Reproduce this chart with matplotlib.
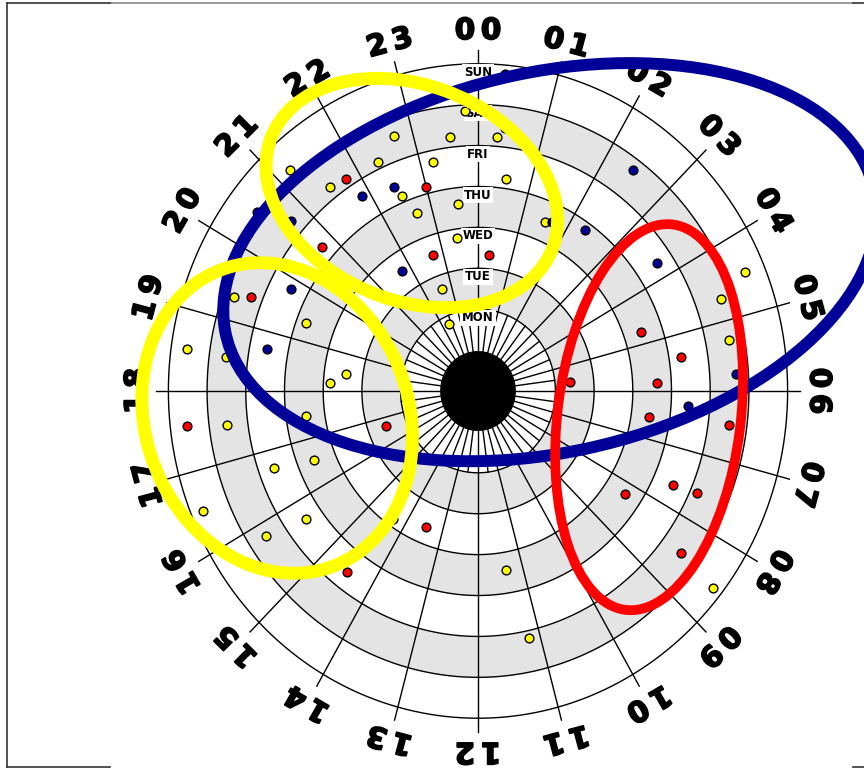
import numpy as np
import matplotlib
matplotlib.use('Agg')
import matplotlib.pyplot as plt
import matplotlib.patheffects as pe
from matplotlib.patches import Ellipse
from matplotlib.lines import Line2D

# Paso 1: datos del gráfico
# anillos (días) de dentro hacia fuera y etiquetas de las horas
dias = ['MON', 'TUE', 'WED', 'THU', 'FRI', 'SAT', 'SUN']
horas = ['%02d' % h for h in range(24)]

# puntos: hora decimal y radio (1 = borde interior de MON ... 8 = borde exterior de SUN)
amarillo_h = [23.81, 22.72, 23.55, 0.30, 22.34, 23.22, 21.20, 21.50, 22.50, 22.68, 23.56, 0.52,
              23.46, 22.62, 22.38, 19.33, 19.36, 18.52, 18.48, 18.46, 18.20, 1.51, 4.47, 4.68,
              5.28, 17.51, 17.47, 16.69, 16.56, 16.51, 15.66, 15.81, 14.34, 11.38, 11.18, 8.56]
amarillo_r = [6.85, 6.59, 6.26, 6.23, 6.16, 5.72, 7.27, 6.29, 5.16, 4.62, 4.60, 5.24,
              3.77, 2.66, 1.81, 6.70, 4.74, 7.60, 6.56, 3.44, 3.83, 4.49, 7.48, 6.67,
              6.60, 6.55, 4.49, 5.60, 4.56, 7.69, 5.43, 6.53, 3.81, 4.44, 6.19, 7.74]

rojo_h = [21.78, 22.99, 20.74, 22.72, 19.42, 0.34, 4.74, 5.40, 5.66, 5.83,
          6.54, 6.49, 7.63, 7.59, 8.23, 8.48, 17.57, 16.70, 13.47, 14.50]
rojo_r = [6.21, 5.17, 5.36, 3.51, 6.30, 3.33, 4.45, 5.30, 2.38, 4.63,
          4.46, 6.54, 5.54, 6.18, 4.55, 6.57, 7.57, 2.53, 3.60, 5.57]

azul_h = [22.43, 21.86, 20.71, 20.50, 21.74, 19.81, 18.71, 0.34, 0.42, 1.66,
          2.34, 2.43, 3.73, 5.76, 6.25]
azul_r = [5.44, 5.64, 6.38, 7.20, 3.52, 5.44, 5.56, 7.78, 6.46, 4.56,
          4.81, 6.72, 5.58, 6.69, 5.43]

# elipses de agrupación (centro x, centro y, ancho, alto, ángulo, color, grosor)
elipses = [
    (1.86, 3.15, 17.12, 9.31, 11.4, '#000099', 8.6),
    (-1.71, 4.84, 7.76, 5.29, -19.1, '#FFFF00', 9.3),
    (-5.19, -0.66, 7.82, 6.74, -61.9, '#FFFF00', 9.3),
    (4.42, -0.64, 9.50, 4.73, 82.4, '#FF0000', 7.0),
]

R = 8.4          # radio máximo del eje
R_LINEA = 8.33   # fin de las líneas de hora
R_DISCO = 0.96   # disco negro central
R_TEXTO = 8.8    # etiquetas de las horas

# Paso 2: figura y eje polar (estirado igual que la imagen original)
fig = plt.figure(figsize=(8.64, 7.7), dpi=100)
caja = [0.17697, 0.04597, 0.75255, 0.89247]
ax = fig.add_axes(caja, projection='polar')
ax.set_theta_zero_location('N')
ax.set_theta_direction(-1)
ax.set_aspect('auto')
ax.set_ylim(0, R)
ax.axis('off')

theta = np.linspace(0, 2 * np.pi, 721)

# bandas grises (TUE, THU, SAT)
for i, d in enumerate(dias):
    if i % 2 == 1:
        ax.fill_between(theta, i + 1, i + 2, color='#E4E4E4', lw=0, zorder=1)

# círculos
for k in range(2, 9):
    ax.plot(theta, np.full_like(theta, k), color='black', lw=1.0, zorder=2)

# líneas de las horas y medias horas interiores
for h in range(24):
    t = np.radians(15 * h)
    ax.plot([t, t], [R_DISCO, R_LINEA], color='black', lw=1.0, zorder=2)
    t2 = np.radians(15 * h + 7.5)
    ax.plot([t2, t2], [R_DISCO, 2], color='black', lw=1.0, zorder=2)

# disco negro
ax.fill(theta, np.full_like(theta, R_DISCO), color='black', zorder=3)

# etiquetas de los días
for i, d in enumerate(dias):
    ax.text(0, i + 2 - 0.21, d, ha='center', va='center', fontsize=8.5,
            fontweight='bold', family=['Liberation Sans Narrow', 'DejaVu Sans'],
            bbox=dict(facecolor='white', edgecolor='none', pad=1.2), zorder=4)

# etiquetas de las horas (dígitos separados y trazo grueso)
for h in range(24):
    ax.text(np.radians(15 * h), R_TEXTO, horas[h][0] + '\u2009' + horas[h][1],
            rotation=-15 * h, rotation_mode='anchor', ha='center', va='center',
            fontsize=21, fontweight='bold', zorder=4,
            path_effects=[pe.withStroke(linewidth=1.3, foreground='black')])

# Paso 3: puntos
for hh, rr, col in [(amarillo_h, amarillo_r, '#FFFF00'),
                    (rojo_h, rojo_r, '#FF0000'),
                    (azul_h, azul_r, '#000099')]:
    ax.scatter(np.radians(np.array(hh) * 15), rr, s=40, c=col,
               edgecolors='black', linewidths=1.0, zorder=5)

# Paso 4: elipses en un eje cartesiano encima
ax2 = fig.add_axes(caja)
ax2.set_xlim(-R, R)
ax2.set_ylim(-R, R)
ax2.axis('off')
for cx, cy, w, hgt, ang, col, lw in elipses:
    ax2.add_patch(Ellipse((cx, cy), w, hgt, angle=ang, fill=False,
                          edgecolor=col, lw=lw, clip_on=False, zorder=6))

# marco
W, H = 864.0, 770.0
def linea(x0, y0, x1, y1, color):
    fig.add_artist(Line2D([x0 / W, x1 / W], [1 - y0 / H, 1 - y1 / H],
                          color=color, lw=1.2, transform=fig.transFigure))
linea(110, 2.5, 853, 2.5, '#888888')
linea(7, 3, 7, 767, '#333333')
linea(7, 3, 110, 3, '#333333')
linea(7, 767, 110, 767, '#333333')
linea(853, 3, 864, 3, '#333333')
linea(853, 767, 864, 767, '#333333')

plt.savefig('out.png', dpi=100)
